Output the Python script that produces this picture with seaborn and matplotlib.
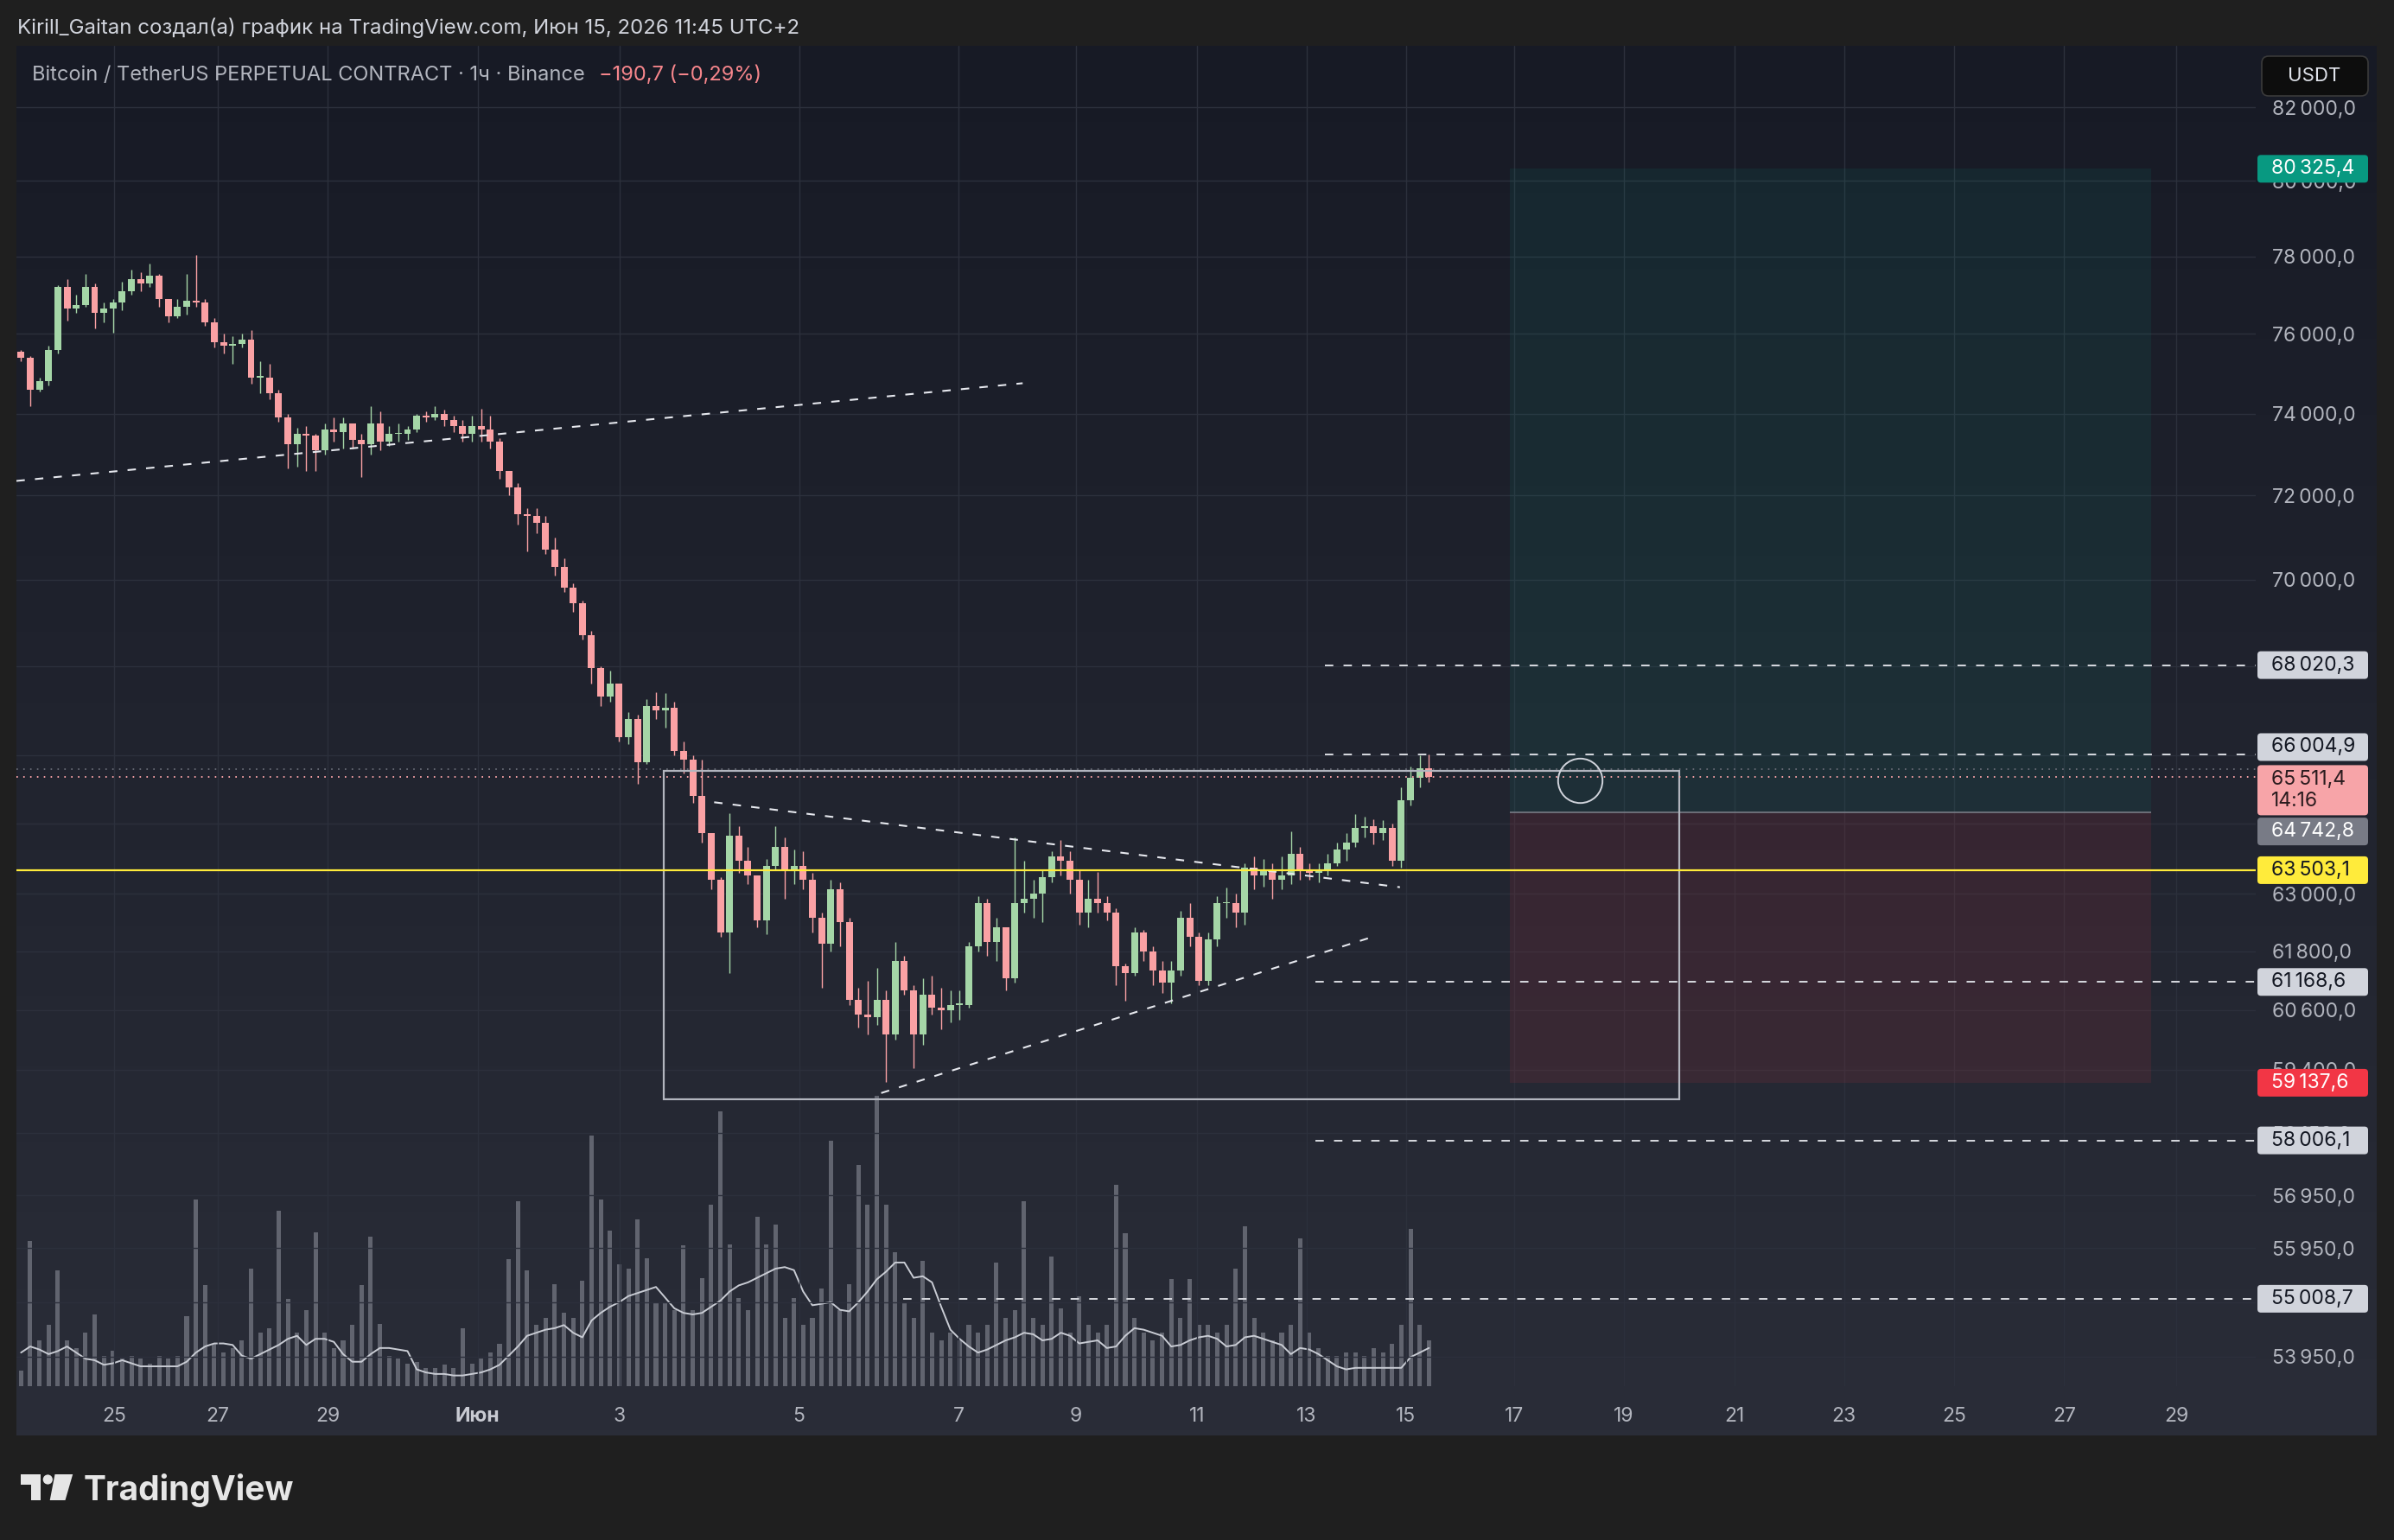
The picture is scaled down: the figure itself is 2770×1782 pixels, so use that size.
import numpy as np
import matplotlib
matplotlib.use("Agg")
import matplotlib.pyplot as plt
import matplotlib.patches as mpatches
import matplotlib.transforms as mtransforms
from matplotlib.ticker import NullLocator
import seaborn as sns

# ---- BTCUSDT perp, candles grouped by 4 hours ----
first_open = 75560
close = [75400, 74600, 74800, 75600, 77200, 76650, 76750, 77200, 76550, 76650,
         76800, 77100, 77400, 77300, 77500, 76900, 76450, 76700, 76850, 76800,
         76300, 75800, 75700, 75750, 75850, 74900, 74900, 74500, 73900, 73250,
         73500, 73450, 73100, 73600, 73550, 73750, 73350, 73250, 73750, 73300,
         73500, 73500, 73600, 73950, 73900, 74000, 73850, 73700, 73500, 73700,
         73600, 73300, 72600, 72200, 71550, 71500, 71350, 70700, 70300, 69800,
         69450, 68700, 67950, 67300, 67600, 66400, 66800, 65850, 67100, 67000,
         67050, 66100, 65900, 65100, 64300, 63300, 62200, 64250, 63700, 63400,
         62450, 63600, 64000, 63500, 63600, 63300, 62500, 61950, 63100, 62400,
         60800, 60500, 60450, 60800, 60100, 61600, 61000, 60100, 60900, 60650,
         60600, 60700, 60700, 61900, 62800, 62000, 62300, 61250, 62800, 62900,
         63000, 63350, 63800, 63700, 63300, 62600, 62900, 62800, 62600, 61500,
         61350, 62200, 61800, 61400, 61150, 61400, 62500, 62100, 61200, 62050,
         62800, 62800, 62600, 63550, 63400, 63500, 63300, 63400, 63850, 63500,
         63450, 63500, 63650, 63950, 64100, 64400, 64450, 64300, 64400, 63700,
         65000, 65500, 65700, 65511.4]
high = [75600, 75450, 74900, 75700, 77260, 77400, 77000, 77550, 77300, 76800,
        76900, 77350, 77650, 77600, 77810, 77550, 76900, 76900, 77550, 78040,
        76900, 76400, 76000, 75950, 76000, 76100, 75300, 75250, 74600, 74000,
        73650, 73700, 73500, 73750, 73900, 73900, 73750, 73500, 74180, 74050,
        73700, 73750, 73700, 74000, 74050, 74180, 74100, 73950, 73850, 73950,
        74120, 73950, 73400, 72600, 72300, 71700, 71700, 71500, 71000, 70500,
        69900, 69500, 68800, 68000, 67900, 67600, 66950, 66900, 67250, 67400,
        67390, 67200, 66300, 66000, 65900, 64300, 63350, 64720, 64450, 64000,
        63400, 63750, 64440, 64200, 63950, 63900, 63450, 62600, 63300, 63250,
        62500, 61050, 61200, 61450, 61000, 61990, 61700, 61100, 61250, 61300,
        61050, 61000, 61000, 62000, 62950, 62900, 62500, 62300, 64200, 63700,
        63300, 63500, 63900, 64150, 63900, 63500, 63300, 63460, 62950, 62700,
        61550, 62300, 62250, 61900, 61600, 61600, 62650, 62800, 62200, 62200,
        62950, 63140, 63000, 63650, 63800, 63750, 63650, 63800, 64330, 64000,
        63650, 63650, 63850, 64100, 64300, 64700, 64650, 64600, 64570, 64500,
        65300, 65750, 66000, 66005]
low = [75300, 74180, 74550, 74700, 75500, 76350, 76550, 76700, 76140, 76300,
       76040, 76600, 77000, 77100, 77200, 76700, 76300, 76400, 76500, 76700,
       76200, 75650, 75500, 75250, 75650, 74750, 74500, 74350, 73800, 72650,
       72700, 72600, 72600, 73000, 73300, 73150, 73150, 72450, 73000, 73100,
       73200, 73300, 73350, 73550, 73800, 73850, 73700, 73550, 73300, 73300,
       73300, 73150, 72400, 72000, 71300, 70670, 71100, 70600, 70100, 69700,
       69250, 68600, 67600, 67100, 67200, 66300, 66250, 65370, 65800, 66800,
       66600, 66000, 65600, 64950, 64100, 63100, 62100, 61350, 63450, 63200,
       62300, 62150, 63500, 62900, 63200, 63100, 62200, 61050, 61800, 61900,
       60700, 60250, 60100, 60300, 59150, 60000, 60900, 59420, 59900, 60500,
       60200, 60350, 60400, 60650, 61800, 61700, 61600, 61000, 61150, 62600,
       62500, 62400, 63250, 63400, 63000, 62350, 62300, 62600, 62450, 61100,
       60790, 61300, 61600, 61100, 60950, 60730, 61300, 61900, 61100, 61100,
       61900, 62500, 62300, 62350, 63100, 63150, 62900, 63100, 63200, 63300,
       63300, 63250, 63400, 63600, 63700, 64000, 64200, 64050, 64150, 63600,
       63550, 64900, 65300, 65400]
volume = [10, 95, 30, 40, 76, 30, 25, 35, 47, 20,
          23, 18, 20, 18, 15, 20, 18, 20, 46, 122,
          66, 28, 22, 25, 30, 77, 35, 38, 115, 57,
          35, 50, 101, 35, 25, 30, 40, 66, 98, 41,
          20, 18, 15, 16, 12, 12, 14, 12, 38, 15,
          18, 22, 28, 83, 121, 76, 40, 45, 67, 48,
          45, 69, 164, 122, 102, 80, 77, 109, 84, 55,
          55, 50, 92, 50, 71, 119, 180, 93, 58, 50,
          111, 93, 106, 45, 58, 40, 45, 64, 161, 50,
          67, 145, 119, 190, 119, 88, 55, 45, 82, 35,
          30, 35, 30, 40, 35, 40, 81, 45, 50, 121,
          45, 40, 85, 51, 35, 59, 40, 35, 40, 132,
          100, 45, 35, 30, 35, 70, 45, 70, 40, 40,
          35, 40, 77, 105, 45, 35, 30, 35, 40, 97,
          35, 25, 20, 20, 22, 22, 20, 25, 22, 28,
          40, 103, 40, 30]
volume_ma = [22, 26, 24, 21, 23, 26, 22, 18, 17, 14,
             15, 17, 15, 13, 13, 13, 13, 13, 16, 22,
             26, 28, 28, 27, 20, 18, 21, 24, 27, 31,
             33, 27, 31, 31, 29, 21, 16, 16, 21, 25,
             25, 24, 23, 11, 9, 8, 8, 7, 7, 8,
             9, 11, 14, 20, 26, 33, 35, 37, 38, 40,
             35, 32, 43, 48, 52, 55, 59, 61, 63, 65,
             58, 51, 48, 47, 48, 52, 56, 62, 66, 68,
             71, 74, 77, 78, 76, 62, 53, 54, 55, 50,
             49, 55, 62, 70, 75, 81, 81, 71, 72, 68,
             52, 37, 31, 26, 22, 24, 27, 30, 32, 35,
             34, 30, 31, 35, 33, 28, 29, 30, 25, 26,
             33, 38, 37, 35, 33, 26, 27, 30, 32, 33,
             31, 26, 27, 32, 33, 31, 29, 27, 21, 25,
             24, 21, 17, 13, 11, 12, 12, 12, 12, 12,
             12, 19, 22, 25]

# time axis in hours from the left edge of the chart
date_ticks = [42.5, 87.6, 135.4, 200.5, 262.2, 340.2, 409.5, 460.5, 513.1,
              560.9, 604.0, 650.9, 698.7, 746.7, 794.5, 842.3, 890.1, 938.9]
date_labels = ["25", "27", "29", "Июн", "3", "5", "7", "9", "11", "13",
               "15", "17", "19", "21", "23", "25", "27", "29"]
price_ticks = [82000, 80000, 78000, 76000, 74000, 72000, 70000, 68000, 66000,
               64500, 63000, 61800, 60600, 59400, 58150, 56950, 55950, 54950, 53950]
# scale labels that sit fully behind a price tag are not shown
hidden_ticks = [68000, 66000, 64500, 54950]

# drawings
resist_x, resist_y = [0, 437.4], [72350, 74757]
tri_top_x, tri_top_y = [303.3, 601.4], [64965, 63142]
support_x, support_y = [375.9, 589.5], [58934, 62100]
range_x, range_y = [281.4, 722.8], [58816, 65661]
levels = [68020.3, 66004.9, 61168.6, 58006.1, 55008.7]
level_from = [568.8, 568.8, 564.8, 564.8, 385.6]
key_level = 63503.1
last_price = 65511.4
upper_dots = 65690
entry, target, stop = 64742.8, 80325.4, 59137.6
position_x = [649.3, 928.0]
mark_x, mark_y = 679.5, 65450

UP, DOWN = "#a5d6a7", "#faa1a4"
W, H = 2770, 1782

sns.set_theme(style="dark")
plt.rcParams["font.family"] = ["Inter", "DejaVu Sans"]
plt.rcParams["lines.scale_dashes"] = False


def fmt(v):
    return f"{v:,.1f}".replace(",", "\u2009").replace(".", ",")


fig = plt.figure(figsize=(W / 100, H / 100), dpi=100, facecolor="#1f1f1f")
PX = mtransforms.IdentityTransform()

# pane background (vertical gradient)
bg = fig.add_axes([19 / W, 1 - 1661 / H, (2750 - 19) / W, (1661 - 53) / H])
top_c = np.array([23, 26, 37]) / 255
bot_c = np.array([42, 45, 56]) / 255
t = np.linspace(0, 1, 256)[:, None, None]
grad = top_c * (1 - t) + bot_c * t
bg.imshow(np.repeat(grad, 2, axis=1), aspect="auto", extent=[0, 1, 0, 1])
bg.axis("off")
bg.set_zorder(-1)

rect = [19 / W, 1 - 1604 / H, (2610 - 19) / W, (1604 - 53) / H]
ax = fig.add_axes(rect)
ax_vol = fig.add_axes(rect, sharex=ax)
ax.set_zorder(2)
ax_vol.set_zorder(1)
ax.patch.set_visible(False)
ax_vol.patch.set_visible(False)

xmax = 973.4
ax.set_xlim(0, xmax)
ax.set_yscale("log")
ax.set_ylim(53421, 83705)

# volume + its moving average
n = len(close)
hours = np.arange(n) * 4 + 2
ax_vol.bar(hours, volume, width=1.9, color="#787b86", alpha=0.72, linewidth=0)
sns.lineplot(x=hours, y=volume_ma, ax=ax_vol, color="#c9ccd4", linewidth=1.4)
ax_vol.set_ylim(0, 878)
ax_vol.axis("off")

# candles
opens = np.array([first_open] + close[:-1], dtype=float)
closes = np.array(close, dtype=float)
colors = np.where(closes >= opens, UP, DOWN)
ax.vlines(hours, low, high, colors=colors, lw=1.0, zorder=4)
ax.bar(hours, np.maximum(np.abs(closes - opens), 30), bottom=np.minimum(opens, closes),
       width=3.0, color=colors, linewidth=0, zorder=5)

# grid / ticks
ax.set_yticks(price_ticks)
ax.set_yticklabels(["" if v in hidden_ticks else fmt(v) for v in price_ticks])
ax.yaxis.set_minor_locator(NullLocator())
ax.yaxis.tick_right()
ax.set_xticks(date_ticks)
ax.set_xticklabels(date_labels)
ax.grid(True, color="#2c303c", lw=1.0)
ax.tick_params(axis="x", colors="#b2b5be", labelsize=16.5, length=0, pad=17)
ax.tick_params(axis="y", colors="#b2b5be", labelsize=16.5, length=0, pad=13.5)
for lab in ax.get_xticklabels():
    if lab.get_text() == "Июн":
        lab.set_fontweight("bold")
        lab.set_color("#c8cad2")
for s in ax.spines.values():
    s.set_visible(False)
ax.set_xlabel("")
ax.set_ylabel("")

# long position tool
ax.fill_between(position_x, entry, target, color="#089981", alpha=0.1, lw=0, zorder=1)
ax.fill_between(position_x, stop, entry, color="#f23645", alpha=0.1, lw=0, zorder=1)
ax.hlines(entry, *position_x, color="#787b86", lw=1.2, zorder=2)

# drawings
dash = dict(color="#e6e8ee", lw=1.5, dashes=(7, 8.5), zorder=6)
ax.plot(resist_x, resist_y, **dash)
ax.plot(tri_top_x, tri_top_y, **dash)
ax.plot(support_x, support_y, **dash)
ax.hlines(levels, level_from, xmax, color="#d8dae0", lw=1.4, linestyles=(0, (7, 8.5)), zorder=6)
ax.add_patch(mpatches.Rectangle((range_x[0], range_y[0]), range_x[1] - range_x[0],
                                range_y[1] - range_y[0], fill=False,
                                edgecolor="#b2b5be", lw=1.6, zorder=6))
ax.axhline(key_level, color="#ffeb3b", lw=1.6, zorder=6)
ax.axhline(upper_dots, color="#6a6d78", lw=1.3, linestyle=(0, (1.2, 4.5)), zorder=3)
ax.axhline(last_price, color="#f7a1a6", lw=1.4, linestyle=(0, (1.2, 4.5)), zorder=6)
ax.plot([mark_x], [mark_y], marker="o", ms=37, mfc="none", mec="#d1d4dc", mew=1.4, zorder=7)

# price tags on the scale
labels = [
    (target, fmt(target), "#089981", "#ffffff", 0, 1),
    (levels[0], fmt(levels[0]), "#d1d4dc", "#131722", 0, 1),
    (levels[1], fmt(levels[1]), "#d1d4dc", "#131722", 9, 1),
    (last_price, fmt(last_price) + "\n14:16", "#f7a4a8", "#2a1b1e", -15, 2),
    (entry, fmt(entry), "#787b86", "#ffffff", -22, 1),
    (key_level, fmt(key_level), "#ffeb3b", "#131722", 0, 1),
    (levels[2], fmt(levels[2]), "#d1d4dc", "#131722", 0, 1),
    (stop, fmt(stop), "#f23645", "#ffffff", 0, 1),
    (levels[3], fmt(levels[3]), "#d1d4dc", "#131722", 0, 1),
    (levels[4], fmt(levels[4]), "#d1d4dc", "#131722", 0, 1),
]
for price, txt, fc, tc, dy, lines in labels:
    yc = ax.transData.transform((0, price))[1] + dy
    h = 32 if lines == 1 else 58
    box = mpatches.FancyBboxPatch((2612, yc - h / 2), 128, h,
                                  boxstyle="round,pad=0,rounding_size=4",
                                  fc=fc, ec="none", transform=PX, zorder=10)
    fig.add_artist(box)
    fig.text(2628, yc, txt, transform=PX, ha="left", va="center",
             fontsize=16.5, color=tc, zorder=11, linespacing=1.15)

# currency button
btn = mpatches.FancyBboxPatch((2617, H - 111), 123, 46, boxstyle="round,pad=0,rounding_size=8",
                              fc="#0d0d0d", ec="#3a3a3a", lw=1.2, transform=PX, zorder=10)
fig.add_artist(btn)
fig.text(2678, H - 88, "USDT", transform=PX, ha="center", va="center",
         fontsize=16, color="#e0e3eb", zorder=11)

# header + legend line
fig.text(20, H - 39, "Kirill_Gaitan создал(а) график на TradingView.com, Июн 15, 2026 11:45 UTC+2",
         transform=PX, ha="left", va="baseline", fontsize=17.3, color="#d1d4dc")
t1 = fig.text(37, H - 93, "Bitcoin / TetherUS PERPETUAL CONTRACT · 1ч · Binance",
              transform=PX, ha="left", va="baseline", fontsize=17, color="#b2b5be", zorder=12)
fig.canvas.draw()
bb = t1.get_window_extent()
fig.text(bb.x1 + 16, H - 93, "\u2212190,7 (\u22120,29%)", transform=PX, ha="left",
         va="baseline", fontsize=17, color="#f7868c", zorder=12)

# TradingView logo
logo_c = "#e6e6e6"
fig.add_artist(mpatches.Polygon([(24, H - 1706), (47.4, H - 1706), (47.4, H - 1736),
                                 (35.7, H - 1736), (35.7, H - 1718.3), (24, H - 1718.3)],
                                closed=True, fc=logo_c, ec="none", transform=PX))
fig.add_artist(mpatches.Circle((55.3, H - 1712), 5.6, fc=logo_c, ec="none", transform=PX))
fig.add_artist(mpatches.Polygon([(63.5, H - 1706), (84.2, H - 1706), (75.5, H - 1736),
                                 (57.7, H - 1736)], closed=True, fc=logo_c, ec="none",
                                transform=PX))
fig.text(97, H - 1736, "TradingView", transform=PX, ha="left", va="baseline",
         fontsize=28, fontweight="bold", color=logo_c)

fig.savefig("out.png", dpi=100, facecolor=fig.get_facecolor())
